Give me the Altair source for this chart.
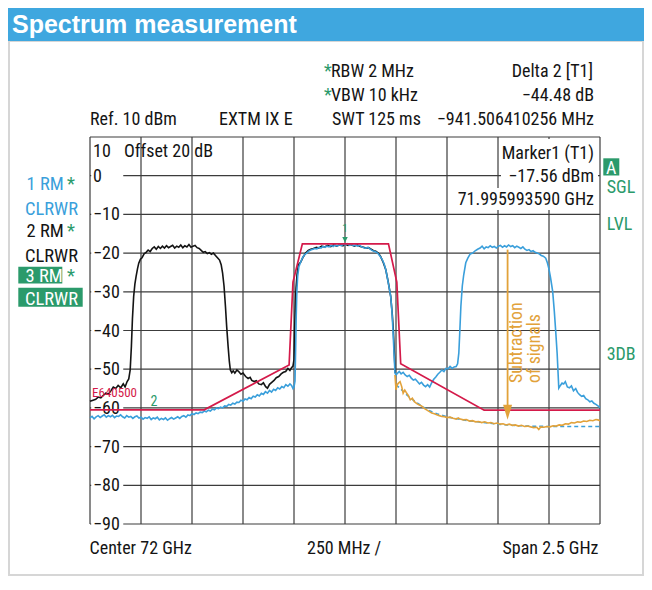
import altair as alt
import pandas as pd

# ---------------- data ----------------
X_GRID = [-1250, -1000, -750, -500, -250, 0, 250, 500, 750, 1000, 1250]   # MHz offset from 72 GHz
Y_GRID = [10, 0, -10, -20, -30, -40, -50, -60, -70, -80, -90]            # dBm
Y_LABEL_VALUES = [0, -10, -20, -30, -40, -50, -60, -70, -80, -90]
Y_LABELS = ["0", "\u221210", "\u221220", "\u221230", "\u221240", "\u221250",
            "\u221260", "\u221270", "\u221280", "\u221290"]

# trace 1 (blue): (MHz offset, dBm)
TRACE1 = [
    (-1250, -62.6), (-1240, -62.2), (-1230, -62.8), (-1220, -62.3), (-1210, -62.0), (-1200, -62.5),
    (-1190, -62.1), (-1180, -61.8), (-1170, -62.4), (-1160, -62.0), (-1150, -62.3), (-1140, -61.9),
    (-1130, -62.5), (-1120, -62.1), (-1110, -62.2), (-1100, -61.8), (-1090, -62.3), (-1080, -62.6),
    (-1070, -62.0), (-1060, -62.4), (-1050, -62.2), (-1040, -62.7), (-1030, -62.3), (-1020, -62.1),
    (-1010, -62.6), (-1000, -62.4), (-990, -62.9), (-980, -62.5), (-970, -62.7), (-960, -62.3),
    (-950, -63.0), (-940, -62.6), (-930, -62.8), (-920, -62.4), (-910, -63.1), (-900, -62.7),
    (-890, -63.0), (-880, -62.6), (-870, -63.2), (-860, -62.8), (-850, -62.5), (-840, -62.9),
    (-830, -62.6), (-820, -62.3), (-810, -62.7), (-800, -62.2), (-790, -62.0), (-780, -62.4),
    (-770, -61.8), (-760, -62.0), (-750, -61.5), (-740, -61.7), (-730, -61.3), (-720, -61.5),
    (-710, -61.1), (-700, -61.2), (-690, -60.8), (-680, -61.0), (-670, -60.6), (-660, -60.8),
    (-650, -60.3), (-640, -60.5), (-630, -60.0), (-620, -60.2), (-610, -59.8), (-600, -60.0),
    (-590, -59.5), (-580, -59.6), (-570, -59.1), (-560, -59.3), (-550, -58.8), (-540, -59.0),
    (-530, -58.5), (-520, -58.6), (-510, -58.0), (-500, -58.3), (-490, -57.7), (-480, -57.9),
    (-470, -57.3), (-460, -57.6), (-450, -57.0), (-440, -57.2), (-430, -56.6), (-420, -56.9),
    (-410, -56.2), (-400, -56.5), (-390, -55.8), (-380, -56.2), (-370, -55.5), (-360, -55.9),
    (-350, -55.2), (-340, -55.5), (-330, -54.8), (-320, -55.1), (-310, -54.5), (-300, -54.8),
    (-290, -54.0), (-280, -54.4), (-270, -53.8), (-262, -54.2), (-255, -55.0), (-250, -54.6),
    (-245, -53.0), (-242, -45.0), (-239, -36.0), (-236, -30.0), (-232, -26.0), (-226, -23.5),
    (-217, -22.3), (-208, -21.2), (-198, -20.4), (-188, -20.0), (-178, -19.5), (-168, -19.2),
    (-158, -19.0), (-148, -18.8), (-138, -18.9), (-128, -18.5), (-118, -18.7), (-108, -18.3),
    (-98, -18.5), (-88, -18.2), (-78, -18.4), (-68, -18.0), (-58, -18.3), (-48, -17.9),
    (-38, -18.2), (-28, -17.8), (-18, -18.1), (-8, -17.7), (2, -17.9), (12, -17.6),
    (22, -18.0), (32, -17.7), (42, -18.1), (52, -17.9), (62, -18.2), (72, -18.0),
    (82, -18.4), (92, -18.6), (102, -18.7), (112, -18.5), (122, -18.9), (132, -19.3),
    (142, -19.5), (152, -19.7), (162, -20.1), (172, -20.8), (182, -21.6), (192, -22.8),
    (200, -24.3), (208, -26.5), (216, -28.8), (224, -31.2), (230, -35.0), (235, -39.8),
    (240, -45.5), (245, -51.0), (250, -51.5), (258, -51.0), (266, -50.6), (275, -51.2),
    (285, -50.8), (295, -51.5), (305, -51.9), (315, -51.6), (325, -52.3), (335, -52.8),
    (345, -52.6), (355, -53.2), (365, -53.8), (375, -53.4), (385, -54.1), (395, -54.5),
    (405, -54.0), (415, -54.6), (425, -53.5), (435, -52.6), (445, -52.0), (455, -51.3),
    (465, -50.8), (475, -50.2), (485, -50.6), (495, -49.8), (505, -49.9), (515, -49.3),
    (525, -49.8), (535, -49.4), (545, -49.3), (552, -48.6), (558, -45.8), (563, -40.0),
    (568, -33.8), (575, -28.5), (582, -25.6), (592, -22.5), (602, -21.3), (614, -20.2),
    (626, -20.0), (638, -19.4), (650, -19.0), (662, -18.7), (672, -18.2), (682, -18.9),
    (692, -18.4), (702, -18.6), (712, -18.1), (722, -18.5), (732, -18.3), (742, -18.7),
    (752, -18.2), (762, -18.0), (772, -18.5), (782, -18.1), (792, -18.4), (802, -17.9),
    (812, -18.3), (822, -18.1), (832, -18.6), (842, -18.2), (852, -18.5), (862, -18.8),
    (872, -18.4), (882, -19.0), (892, -19.3), (902, -19.1), (912, -19.6), (922, -19.4),
    (932, -19.8), (942, -20.0), (952, -20.2), (962, -20.6), (972, -20.8), (984, -21.3),
    (992, -22.5), (999, -23.9), (1008, -26.5), (1018, -29.9), (1026, -35.0), (1033, -40.3),
    (1040, -46.0), (1048, -54.9), (1056, -54.2), (1064, -53.6), (1072, -53.8), (1080, -53.2),
    (1090, -54.6), (1100, -54.8), (1110, -54.3), (1120, -55.6), (1131, -55.0), (1140, -56.0),
    (1150, -56.6), (1160, -57.0), (1170, -56.8), (1180, -57.6), (1190, -57.9), (1200, -58.4),
    (1210, -58.2), (1220, -58.8), (1230, -59.1), (1240, -59.5), (1250, -59.9),
]

# trace 2 (black)
TRACE2 = [
    (-1250, -58.3), (-1235, -58.0), (-1222, -57.8), (-1210, -57.2), (-1197, -57.4), (-1185, -56.8),
    (-1173, -56.2), (-1160, -56.5), (-1148, -55.6), (-1136, -54.6), (-1124, -55.0), (-1112, -54.2),
    (-1099, -54.8), (-1087, -53.8), (-1078, -54.6), (-1068, -53.2), (-1060, -52.5), (-1053, -50.2),
    (-1047, -44.0), (-1042, -37.0), (-1036, -31.2), (-1030, -28.0), (-1024, -26.0), (-1017, -24.0),
    (-1011, -22.6), (-1003, -21.6), (-995, -21.2), (-985, -20.2), (-975, -19.8), (-965, -19.2),
    (-955, -19.6), (-945, -18.8), (-935, -18.4), (-925, -19.0), (-915, -18.3), (-905, -18.8),
    (-895, -18.2), (-885, -18.7), (-875, -18.1), (-865, -18.6), (-855, -18.3), (-845, -18.0),
    (-835, -18.7), (-825, -18.2), (-815, -18.5), (-805, -17.9), (-795, -18.6), (-785, -18.1),
    (-775, -18.4), (-765, -17.8), (-755, -18.5), (-745, -18.2), (-735, -18.0), (-725, -18.6),
    (-715, -18.8), (-705, -19.3), (-695, -19.8), (-685, -19.6), (-675, -20.1), (-665, -19.9),
    (-655, -20.3), (-645, -20.0), (-635, -20.6), (-625, -21.2), (-615, -21.8), (-607, -23.0),
    (-600, -25.2), (-593, -28.5), (-586, -33.8), (-580, -39.0), (-573, -44.1), (-567, -48.0),
    (-562, -50.2), (-555, -50.9), (-548, -50.4), (-540, -51.0), (-530, -50.2), (-521, -50.6),
    (-510, -51.3), (-500, -51.0), (-487, -51.9), (-475, -52.4), (-465, -52.1), (-457, -52.9),
    (-445, -53.2), (-435, -53.0), (-423, -53.8), (-410, -54.0), (-400, -53.5), (-389, -54.5),
    (-380, -54.9), (-370, -53.9), (-359, -53.4), (-348, -52.9), (-337, -52.2), (-325, -51.9),
    (-313, -51.2), (-302, -50.8), (-291, -50.6), (-280, -49.8), (-270, -50.3), (-262, -49.6),
    (-255, -49.2), (-250, -47.5), (-247, -40.0), (-243, -33.0), (-240, -29.0), (-235, -25.5),
    (-228, -23.0), (-217, -22.3), (-205, -21.0), (-193, -20.0), (-180, -19.3), (-168, -19.0),
    (-155, -18.8), (-140, -18.5), (-129, -18.7), (-115, -18.2), (-100, -18.4), (-85, -18.0),
    (-70, -18.3), (-55, -17.9), (-40, -18.2), (-25, -17.8), (-10, -18.1), (0, -17.7),
    (15, -18.0), (30, -17.8), (45, -18.2), (60, -17.9), (75, -18.3), (90, -18.5),
    (102, -18.7), (115, -18.6), (128, -19.0), (140, -19.4), (151, -19.5), (163, -20.0),
    (175, -20.9), (188, -22.5), (200, -24.3), (212, -27.5), (224, -31.2), (232, -36.0),
    (237, -40.0), (242, -46.0), (246, -51.0),
]

# subtraction result (orange)
TRACE_SUB = [
    (245, -51.5), (250, -55.3), (256, -54.0), (262, -53.6), (270, -53.2), (278, -54.5),
    (285, -56.2), (293, -55.4), (300, -56.0), (310, -56.8), (320, -57.9), (330, -57.5),
    (340, -58.4), (352, -58.9), (362, -59.2), (375, -59.5), (388, -60.1), (400, -60.5),
    (412, -60.9), (425, -61.3), (438, -61.5), (450, -61.8), (462, -62.0), (475, -62.2),
    (488, -62.3), (500, -62.5), (515, -62.4), (530, -62.7), (545, -62.9), (555, -62.6),
    (565, -62.9), (580, -63.1), (595, -63.0), (610, -63.4), (625, -63.3), (640, -63.6),
    (655, -63.5), (670, -63.8), (685, -63.6), (700, -63.9), (715, -63.8), (730, -64.1),
    (745, -63.9), (760, -64.2), (775, -64.1), (790, -64.4), (805, -64.2), (820, -64.5),
    (835, -64.4), (850, -64.7), (865, -64.5), (880, -64.8), (895, -64.7), (910, -64.9),
    (925, -65.1), (940, -65.0), (950, -65.6), (960, -64.9), (975, -65.0), (990, -64.8),
    (1005, -64.9), (1020, -64.6), (1035, -64.7), (1050, -64.4), (1065, -64.5), (1080, -64.1),
    (1095, -64.2), (1110, -63.8), (1125, -63.9), (1140, -63.6), (1155, -63.7), (1170, -63.4),
    (1185, -63.5), (1200, -63.2), (1215, -63.3), (1230, -63.0), (1240, -63.1), (1250, -63.3),
]

# trace 3 (dashed blue)
TRACE3 = [
    (250, -54.0), (275, -55.2), (300, -56.5), (325, -57.6), (350, -58.6), (375, -59.5),
    (400, -60.3), (425, -61.0), (450, -61.5), (500, -62.3), (550, -62.8), (600, -63.3),
    (650, -63.6), (700, -63.9), (750, -64.2), (800, -64.4), (850, -64.6), (900, -64.7),
    (1000, -64.8), (1100, -64.8), (1250, -64.8),
]

# limit line E640500 (red)
LIMIT = [
    (-1250, -60.5), (-690, -60.5), (-274, -48.9), (-255, -27.5), (-209, -17.6),
    (213, -17.6), (254, -27.5), (273, -48.6), (682, -60.6), (1250, -60.6),
]

ARROW_F = 797                 # MHz
ARROW_TOP, ARROW_END = -19.1, -59.4
ARROW_HEAD = -61.1
MARKER1 = (0, -17.56)
MARKER2_LABEL = (-937, -58.4)
LIMIT_LABEL = (-1240, -56.1)

# --------------- style ---------------
FONT = "Liberation Sans Narrow, Roboto Condensed, Arial Narrow, sans-serif"
FS = 18
INK = "#141414"
BLUE = "#3a9fdb"
GREEN = "#2b9a6b"
RED = "#d41a4a"
ORANGE = "#e2a23a"
GRID = "#3c3c3c"
OX, OY = 90, 137   # page position of the plot origin
W, H = 510, 387

xs = alt.Scale(domain=[-1250, 1250], nice=False, zero=False)
ys = alt.Scale(domain=[-90, 10], nice=False, zero=False)


def tdf(pairs):
    return pd.DataFrame({"f": [p[0] for p in pairs], "db": [p[1] for p in pairs],
                         "i": list(range(len(pairs)))})


def line(pairs, color, width=1.6, dash=None):
    kw = dict(color=color, strokeWidth=width, interpolate="linear")
    if dash:
        kw["strokeDash"] = dash
    return alt.Chart(tdf(pairs)).mark_line(**kw).encode(
        x=alt.X("f:Q", scale=xs, axis=None),
        y=alt.Y("db:Q", scale=ys, axis=None),
        order="i:Q")


def label(text, px, py, color=INK, size=FS, align="left", weight="normal",
          font=FONT, angle=0, baseline="alphabetic"):
    kw = dict(align=align, baseline=baseline, font=font, fontSize=size,
              fontWeight=weight, color=color)
    if angle:
        kw["angle"] = angle
    return alt.Chart(pd.DataFrame({"t": [text]})).mark_text(**kw).encode(
        x=alt.value(px - OX), y=alt.value(py - OY), text="t:N")


def box(x1, y1, x2, y2, fill="white", stroke=None, sw=0):
    kw = dict(fill=fill)
    if stroke:
        kw.update(stroke=stroke, strokeWidth=sw)
    return alt.Chart(pd.DataFrame({"a": [0]})).mark_rect(**kw).encode(
        x=alt.value(x1 - OX), x2=alt.value(x2 - OX),
        y=alt.value(y1 - OY), y2=alt.value(y2 - OY))


layers = []
# panel frame and title band
layers.append(box(9, 41, 643, 575, fill="white", stroke="#d6d6d6", sw=2))
layers.append(box(8, 8, 644, 41, fill="#3fa7df"))
layers.append(label("Spectrum measurement", 12, 33, color="white", size=25,
                    weight="bold", font="Liberation Sans, Arial, sans-serif"))

# grid
vdf = pd.DataFrame({"f": X_GRID, "lo": -90, "hi": 10})
layers.append(alt.Chart(vdf).mark_rule(color=GRID, strokeWidth=1.2).encode(
    x=alt.X("f:Q", scale=xs, axis=None), y=alt.Y("lo:Q", scale=ys, axis=None), y2="hi:Q"))
hdf = pd.DataFrame({"db": Y_GRID, "lo": -1250, "hi": 1250})
layers.append(alt.Chart(hdf).mark_rule(color=GRID, strokeWidth=1.2).encode(
    y=alt.Y("db:Q", scale=ys, axis=None), x=alt.X("lo:Q", scale=xs, axis=None), x2="hi:Q"))

# white boxes behind y labels
ldf = pd.DataFrame({"v": Y_LABEL_VALUES, "t": Y_LABELS})
ldf["lo"] = ldf["v"] - 2.4
ldf["hi"] = ldf["v"] + 2.4
ldf["x1"] = -1244
ldf["x2"] = -1087
layers.append(alt.Chart(ldf).mark_rect(fill="white").encode(
    x=alt.X("x1:Q", scale=xs, axis=None), x2="x2:Q",
    y=alt.Y("lo:Q", scale=ys, axis=None), y2="hi:Q"))
layers.append(alt.Chart(ldf).mark_text(align="left", baseline="middle", font=FONT,
                                       fontSize=FS, color=INK, dx=3, dy=1).encode(
    x=alt.value(0), y=alt.Y("v:Q", scale=ys, axis=None), text="t:N"))

# marker info box
layers.append(box(503, 139, 598, 164))
layers.append(box(501, 164, 598, 188))
layers.append(box(459, 188, 598, 210))
layers.append(label("Marker1 (T1)", 594, 158.5, align="right"))
layers.append(label("\u221217.56 dBm", 594, 182, align="right"))
layers.append(label("71.995993590 GHz", 594, 205, align="right"))
layers.append(label("10", 93, 157))
layers.append(label("Offset 20 dB", 124, 157))

# traces
layers.append(line(TRACE3, BLUE, 1.5, dash=[4, 3]))
layers.append(line(TRACE2, INK, 1.6))
layers.append(line(TRACE1, BLUE, 1.6))
layers.append(line(TRACE_SUB, ORANGE, 1.6))
layers.append(line(LIMIT, RED, 1.7))

# limit label and markers
layers.append(alt.Chart(pd.DataFrame({"f": [LIMIT_LABEL[0]], "db": [LIMIT_LABEL[1]], "t": ["E640500"]}))
              .mark_text(align="left", baseline="middle", font=FONT, fontSize=13, color=RED)
              .encode(x=alt.X("f:Q", scale=xs, axis=None), y=alt.Y("db:Q", scale=ys, axis=None), text="t:N"))
layers.append(alt.Chart(pd.DataFrame({"f": [MARKER2_LABEL[0]], "db": [MARKER2_LABEL[1]], "t": ["2"]}))
              .mark_text(align="center", baseline="middle", font=FONT, fontSize=14, color=GREEN)
              .encode(x=alt.X("f:Q", scale=xs, axis=None), y=alt.Y("db:Q", scale=ys, axis=None), text="t:N"))
m1 = pd.DataFrame({"f": [MARKER1[0]], "db": [MARKER1[1]], "t": ["1"]})
layers.append(alt.Chart(m1).mark_point(shape="M-1,-1L1,-1L0,1Z", size=30, filled=True,
                                       color=GREEN, opacity=1, yOffset=-4)
              .encode(x=alt.X("f:Q", scale=xs, axis=None), y=alt.Y("db:Q", scale=ys, axis=None)))
layers.append(alt.Chart(m1).mark_text(align="center", baseline="middle", font=FONT, fontSize=11,
                                      color=GREEN, dy=-15)
              .encode(x=alt.X("f:Q", scale=xs, axis=None), y=alt.Y("db:Q", scale=ys, axis=None), text="t:N"))

# subtraction arrow
adf = pd.DataFrame({"f": [ARROW_F], "a": [ARROW_TOP], "b": [ARROW_END], "h": [ARROW_HEAD]})
layers.append(alt.Chart(adf).mark_rule(color=ORANGE, strokeWidth=1.8).encode(
    x=alt.X("f:Q", scale=xs, axis=None), y=alt.Y("a:Q", scale=ys, axis=None), y2="b:Q"))
layers.append(alt.Chart(adf).mark_point(shape="M-0.6,-1L0.6,-1L0,1Z", size=225, filled=True,
                                        color=ORANGE, opacity=1)
              .encode(x=alt.X("f:Q", scale=xs, axis=None), y=alt.Y("h:Q", scale=ys, axis=None)))
layers.append(label("Subtraction", 522, 383, color=ORANGE, size=17.8, angle=270))
layers.append(label("of signals", 540, 383, color=ORANGE, size=17.8, angle=270))

# header texts
layers.append(label("*", 324, 77, color=GREEN))
layers.append(label("RBW  2 MHz", 331, 77))
layers.append(label("*", 324, 101, color=GREEN))
layers.append(label("VBW 10 kHz", 331, 101))
layers.append(label("SWT 125 ms", 332, 125))
layers.append(label("Ref. 10 dBm", 90, 125))
layers.append(label("EXTM IX E", 219, 125))
layers.append(label("Delta 2 [T1]", 593, 77, align="right"))
layers.append(label("\u221244.48 dB", 594, 101, align="right"))
layers.append(label("\u2212941.506410256 MHz", 594, 125, align="right"))

# trace legend (left)
LS = 18.5
layers.append(label("1 RM", 26.5, 190, color=BLUE, size=LS))
layers.append(label("*", 67, 190, color=GREEN, size=LS))
layers.append(label("CLRWR", 25, 215, color=BLUE, size=LS))
layers.append(label("2 RM", 26.5, 237, size=LS))
layers.append(label("*", 67, 237, color=GREEN, size=LS))
layers.append(label("CLRWR", 25, 262, size=LS))
layers.append(box(18.3, 266.7, 62.3, 283.5, fill=GREEN))
layers.append(label("3 RM", 25.5, 281.5, color="white", size=LS))
layers.append(label("*", 67, 281.5, color=GREEN, size=LS))
layers.append(box(18.3, 287.7, 82.7, 306.7, fill=GREEN))
layers.append(label("CLRWR", 25, 305, color="white", size=LS))

# status (right)
layers.append(box(603.3, 158.3, 619.3, 175.5, fill=GREEN))
layers.append(label("A", 611.3, 174, color="white", align="center"))
layers.append(label("SGL", 606.7, 193.3, color=GREEN))
layers.append(label("LVL", 606.7, 230, color=GREEN))
layers.append(label("3DB", 606.7, 360, color=GREEN))

# bottom texts
layers.append(label("Center 72 GHz", 89.5, 553.5))
layers.append(label("250 MHz /", 307, 553.5))
layers.append(label("Span 2.5 GHz", 598.5, 553.5, align="right"))

chart = alt.layer(*layers).properties(
    width=W, height=H,
    padding={"left": 82, "top": 129, "right": 44, "bottom": 52},
    autosize=alt.AutoSizeParams(type="none"),
    background="white",
).configure_view(stroke=None)

chart.save("out.html", embed_options={"renderer": "svg", "actions": False})
